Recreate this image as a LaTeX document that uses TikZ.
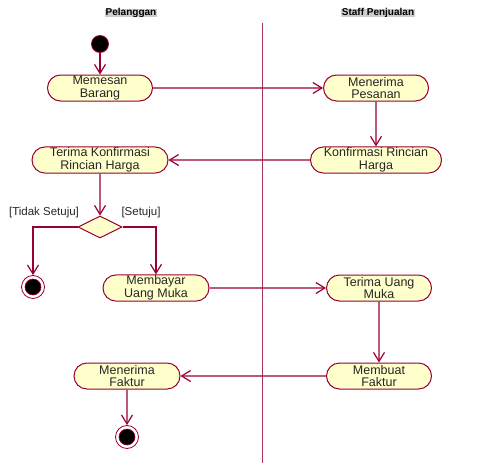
\documentclass[tikz,border=0pt]{standalone}
\usepackage{fontspec}
\setmainfont{Liberation Sans}
\usetikzlibrary{arrows.meta,shapes.misc,shapes.geometric}
\definecolor{LineClr}{RGB}{153,0,51}
\definecolor{ActClr}{RGB}{255,255,204}
\definecolor{HeadClr}{RGB}{205,205,205}

\begin{document}
\begin{tikzpicture}[x=1pt,y=-1pt,
  activity/.style={rounded rectangle,draw=LineClr,fill=ActClr,line width=1pt,
    minimum height=26pt,minimum width=107pt,inner sep=1pt,align=center,
    text=black!85,font=\fontsize{12.5}{12.5}\selectfont},
  flow/.style={draw=LineClr,line width=1.2pt,
    -{Straight Barb[length=9pt,width=11pt,line width=1.2pt]}},
  lanehead/.style={fill=HeadClr,inner sep=0.6pt,text height=6.5pt,text depth=1pt,
    font=\fontsize{10}{10}\selectfont\bfseries},
  guard/.style={text=black!85,inner sep=0pt,font=\fontsize{11.5}{12}\selectfont},
  startnode/.style={circle,draw=LineClr,fill=black,line width=0.8pt,minimum size=17pt,inner sep=0pt},
  endring/.style={circle,draw=LineClr,fill=white,line width=0.8pt,minimum size=23pt,inner sep=0pt},
  enddot/.style={circle,draw=LineClr,fill=black,line width=0.6pt,minimum size=16pt,inner sep=0pt},
  choice/.style={diamond,aspect=2,draw=LineClr,fill=ActClr,line width=1pt,
    minimum width=44pt,minimum height=22pt,inner sep=0pt}]

\useasboundingbox (0,0) rectangle (490,466);

% swimlanes
\node[lanehead] (pelanggan) at (131,13) {Pelanggan};
\node[lanehead] (staff) at (378,13) {Staff Penjualan};
\coordinate (laneTop) at (262,23);
\coordinate (laneBot) at (262,463);
\draw[LineClr!80,line width=1pt] (laneTop) -- (laneBot);

% activities
\node[startnode] (mulai) at (100,44) {};
\node[activity] (memesan) at (100,88) {Memesan\\Barang};
\node[activity] (menerima) at (376,88) {Menerima\\Pesanan};
\node[activity,minimum width=133pt] (konfirmasi) at (376,160) {Konfirmasi Rincian\\Harga};
\node[activity,minimum width=138pt] (terimakonf) at (100,160) {Terima Konfirmasi\\Rincian Harga};
\node[choice] (pilih) at (100,227) {};
\node[endring] (batal) at (33,287) {};
\node[enddot] (batalDot) at (batal) {};
\node[activity,minimum width=108pt] (membayar) at (156,288) {Membayar\\Uang Muka};
\node[activity] (terimauang) at (379,288) {Terima Uang\\Muka};
\node[activity] (membuat) at (379,376) {Membuat\\Faktur};
\node[activity,minimum width=108pt] (menerimaf) at (127,376) {Menerima\\Faktur};
\node[endring] (selesai) at (127,437) {};
\node[enddot] (selesaiDot) at (selesai) {};

% guards
\node[guard] (tidak) at (44,213) {[Tidak Setuju]};
\node[guard] (setuju) at (141,213) {[Setuju]};

% flows
\draw[flow] (mulai) -- (memesan);
\draw[flow] (memesan) -- (menerima);
\draw[flow] (menerima) -- (konfirmasi);
\draw[flow] (konfirmasi) -- (terimakonf);
\draw[flow] (terimakonf) -- (pilih);
\draw[flow] (pilih.west) -| (batal);
\draw[flow] (pilih.east) -| (membayar);
\draw[flow] (membayar) -- (terimauang);
\draw[flow] (terimauang) -- (membuat);
\draw[flow] (membuat) -- (menerimaf);
\draw[flow] (menerimaf) -- (selesai);

\end{tikzpicture}
\end{document}
